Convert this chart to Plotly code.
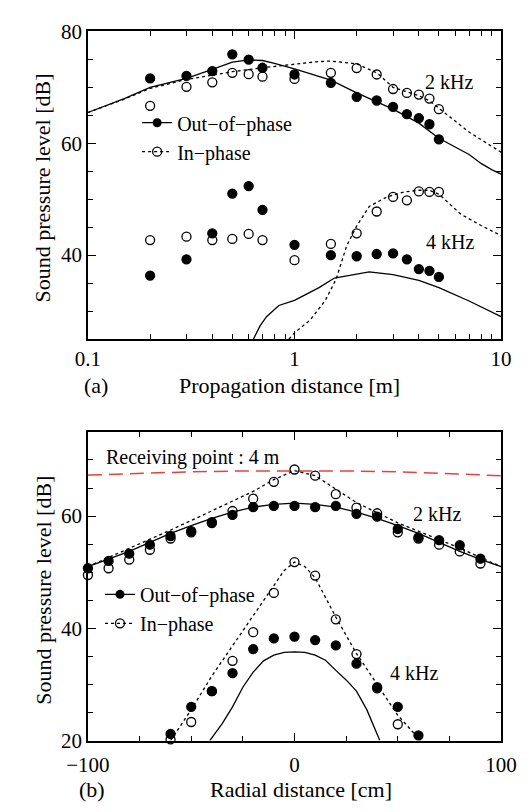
import plotly.graph_objects as go

# ---------------- (a) Propagation distance ----------------
dist_pts = [0.2, 0.3, 0.4, 0.5, 0.6, 0.7, 1.0, 1.5, 2.0, 2.5, 3.0, 3.5, 4.0, 4.5, 5.0]
a2k_out = [71.6, 72.05, 72.9, 75.9, 74.96, 73.5, 72.3, 70.8, 68.3, 67.65, 66.5, 65.2, 64.5, 63.4, 60.7]
a2k_in = [66.7, 70.1, 70.9, 72.6, 72.35, 71.9, 71.5, 72.6, 73.45, 72.3, 69.7, 69.0, 68.7, 68.0, 66.1]
a4k_out = [36.35, 39.25, 43.9, 51.0, 52.35, 48.1, 41.85, 40.0, 39.8, 40.2, 40.3, 39.25, 37.5, 37.2, 36.1]
a4k_in = [42.7, 43.3, 42.7, 42.9, 43.8, 42.7, 39.1, 42.0, 43.9, 47.8, 50.4, 49.8, 51.4, 51.3, 51.3]

a2k_out_line_x = [0.1, 0.15, 0.2, 0.3, 0.4, 0.5, 0.6, 0.7, 0.8, 1.0, 1.5, 2.0, 3.0, 4.0, 5.0, 6.0, 7.0, 8.0, 9.0, 10.0]
a2k_out_line_y = [65.5, 68.0, 70.0, 71.6, 73.2, 74.5, 74.9, 74.8, 74.3, 73.3, 71.3, 69.0, 66.1, 63.6, 60.9, 59.4, 58.0, 56.4, 55.3, 54.5]
a2k_in_line_x = [0.1, 0.15, 0.2, 0.3, 0.4, 0.5, 0.7, 1.0, 1.3, 1.5, 2.0, 2.5, 3.0, 3.5, 4.0, 4.5, 5.0, 7.0, 10.0]
a2k_in_line_y = [65.5, 67.9, 69.8, 71.4, 72.2, 72.8, 73.5, 74.2, 74.6, 74.7, 74.2, 72.6, 70.0, 69.2, 68.5, 67.6, 66.3, 62.0, 58.4]
a4k_out_line_x = [0.633, 0.68, 0.732, 0.84, 1.0, 1.07, 1.315, 1.56, 2.0, 2.3, 3.0, 4.0, 5.0, 7.0, 10.0]
a4k_out_line_y = [25.0, 27.3, 29.0, 31.0, 31.9, 32.5, 34.2, 35.9, 36.6, 37.0, 36.5, 35.5, 34.2, 31.8, 29.0]
a4k_in_line_x = [0.94, 1.0, 1.19, 1.41, 1.59, 1.79, 2.0, 2.3, 2.8, 3.4, 4.0, 4.5, 5.0, 5.6, 6.4, 8.0, 10.0]
a4k_in_line_y = [25.0, 26.1, 28.4, 31.9, 35.7, 41.7, 45.2, 48.7, 50.4, 51.3, 51.6, 51.6, 50.9, 49.2, 47.3, 45.3, 43.5]

# ---------------- (b) Radial distance ----------------
r2k_pts = [-100, -90, -80, -70, -60, -50, -40, -30, -20, -10, 0, 10, 20, 30, 40, 50, 60, 70, 80, 90]
b2k_out = [50.7, 52.0, 53.3, 54.9, 56.45, 57.3, 58.9, 60.2, 61.6, 61.8, 61.8, 61.6, 61.8, 60.4, 59.9, 57.7, 56.2, 55.7, 54.8, 52.4]
b2k_in = [49.5, 50.7, 52.25, 54.0, 56.0, 57.1, 58.75, 60.9, 63.1, 66.1, 68.3, 67.2, 63.9, 61.5, 60.5, 57.1, 56.0, 54.9, 53.7, 51.55]
r4k_out_pts = [-60, -50, -40, -30, -20, -10, 0, 10, 20, 30, 40, 50, 60]
b4k_out = [21.2, 26.0, 28.8, 32.0, 36.3, 38.2, 38.5, 37.9, 36.95, 33.7, 29.5, 26.0, 20.9]
r4k_in_pts = [-60, -50, -40, -30, -20, -10, 0, 10, 20, 30, 40, 50]
b4k_in = [20.2, 23.3, 28.8, 34.2, 39.3, 46.3, 51.8, 49.4, 41.6, 35.4, 29.3, 22.9]

b2k_line_x = [-100, -90, -80, -70, -60, -50, -40, -30, -20, -10, 0, 10, 20, 30, 40, 50, 60, 70, 80, 90, 100]
b2k_out_line_y = [51.0, 52.3, 53.7, 55.3, 56.9, 58.3, 59.6, 60.7, 61.6, 62.1, 62.3, 62.1, 61.6, 60.7, 59.6, 58.3, 56.9, 55.3, 53.7, 52.3, 51.0]
b2k_in_line_y = [51.0, 52.6, 54.3, 55.9, 57.5, 59.2, 60.9, 62.6, 64.4, 66.5, 68.1, 67.2, 64.8, 62.4, 60.6, 58.8, 57.3, 55.8, 54.3, 52.6, 51.0]
b4k_out_line_x = [-41, -35, -30, -25, -20, -15, -10, -5, 0, 5, 10, 15, 20, 25, 30, 35, 41.3]
b4k_out_line_y = [20.0, 23.0, 26.0, 29.5, 32.2, 34.2, 35.2, 35.7, 35.8, 35.7, 35.2, 34.3, 32.5, 30.8, 28.8, 25.5, 20.0]
b4k_in_line_x = [-60, -50, -40, -30, -20, -10, -5, 0, 5, 10, 20, 30, 40, 50, 60, 61]
b4k_in_line_y = [20.0, 25.5, 31.5, 36.9, 42.3, 47.7, 50.3, 51.8, 51.0, 49.0, 42.0, 35.5, 30.0, 24.5, 20.4, 20.0]
recv_x = [-100, -75, -50, -25, 0, 25, 50, 75, 100]
recv_y = [67.3, 67.65, 67.9, 68.05, 68.1, 68.05, 67.9, 67.6, 67.2]

FONT = "Liberation Serif, Times New Roman, Times, serif"
W, H = 531, 812
BLACK = "black"

def px(xp):
    return xp / W

def py(yp):
    return 1 - yp / H

fig = go.Figure()

def line(x, y, dash, xa, ya, color=BLACK, width=1.3):
    fig.add_trace(go.Scatter(x=x, y=y, mode="lines", xaxis=xa, yaxis=ya, showlegend=False,
                             line=dict(color=color, width=width, dash=dash), hoverinfo="skip"))

def pts(x, y, filled, xa, ya):
    fig.add_trace(go.Scatter(x=x, y=y, mode="markers", xaxis=xa, yaxis=ya, showlegend=False,
                             cliponaxis=False,
                             marker=dict(symbol="circle" if filled else "circle-open", size=9,
                                         color=BLACK, line=dict(color=BLACK, width=1.3))))

# panel (a)
line(a2k_out_line_x, a2k_out_line_y, "solid", "x", "y")
line(a2k_in_line_x, a2k_in_line_y, "3px,3px", "x", "y")
line(a4k_out_line_x, a4k_out_line_y, "solid", "x", "y")
line(a4k_in_line_x, a4k_in_line_y, "3px,3px", "x", "y")
pts(dist_pts, a2k_in, False, "x", "y")
pts(dist_pts, a2k_out, True, "x", "y")
pts(dist_pts, a4k_in, False, "x", "y")
pts(dist_pts, a4k_out, True, "x", "y")

# panel (b)
line(recv_x, recv_y, "14px,7px", "x2", "y2", color="#e8403a", width=1.5)
line(b2k_line_x, b2k_out_line_y, "solid", "x2", "y2")
line(b2k_line_x, b2k_in_line_y, "3px,3px", "x2", "y2")
line(b4k_out_line_x, b4k_out_line_y, "solid", "x2", "y2")
line(b4k_in_line_x, b4k_in_line_y, "3px,3px", "x2", "y2")
pts(r2k_pts, b2k_in, False, "x2", "y2")
pts(r2k_pts, b2k_out, True, "x2", "y2")
pts(r4k_in_pts, b4k_in, False, "x2", "y2")
pts(r4k_out_pts, b4k_out, True, "x2", "y2")

# legend entries
for lg, xa, ya in (("legend", "x", "y"), ("legend2", "x2", "y2")):
    fig.add_trace(go.Scatter(x=[None], y=[None], mode="lines+markers", name="Out\u2212of\u2212phase",
                             xaxis=xa, yaxis=ya, legend=lg,
                             line=dict(color=BLACK, width=1.3),
                             marker=dict(symbol="circle", size=9, color=BLACK)))
    fig.add_trace(go.Scatter(x=[None], y=[None], mode="lines+markers", name="In\u2212phase",
                             xaxis=xa, yaxis=ya, legend=lg,
                             line=dict(color=BLACK, width=1.3, dash="3px,3px"),
                             marker=dict(symbol="circle-open", size=9, color=BLACK,
                                         line=dict(color=BLACK, width=1.3))))

axis_common = dict(showline=True, linecolor=BLACK, linewidth=1.5, mirror="allticks",
                   ticks="inside", ticklen=8, tickwidth=1.2, tickcolor=BLACK,
                   showgrid=False, zeroline=False,
                   tickfont=dict(family=FONT, size=21, color=BLACK))
minor_common = dict(ticks="inside", ticklen=5, tickwidth=1.2, tickcolor=BLACK, showgrid=False)

xdom = [px(71), px(516)]
log_minor = [0.2, 0.3, 0.4, 0.5, 0.6, 0.7, 0.8, 0.9, 2, 3, 4, 5, 6, 7, 8, 9]

fig.update_layout(
    width=W, height=H, margin=dict(l=0, r=0, t=0, b=0),
    paper_bgcolor="white", plot_bgcolor="white",
    font=dict(family=FONT, color=BLACK),
    xaxis=dict(domain=xdom, type="log", range=[-1, 1], tickvals=[0.1, 1, 10],
               ticktext=["0.1", "1", "10"], anchor="y",
               minor=dict(tickvals=log_minor, **minor_common), **axis_common),
    yaxis=dict(domain=[py(337), py(20)], range=[25, 80], tickvals=[40, 60, 80], anchor="x",
               minor=dict(dtick=5, **minor_common), **axis_common),
    xaxis2=dict(domain=xdom, range=[-100, 100], tickvals=[-100, 0, 100], anchor="y2",
                ticklabelstandoff=5,
                minor=dict(dtick=25, **minor_common), **axis_common),
    yaxis2=dict(domain=[py(750.7), py(432.7)], range=[20, 75], tickvals=[20, 40, 60], anchor="x2",
                minor=dict(dtick=5, **minor_common), **axis_common),
    legend=dict(x=px(124), y=py(94), xanchor="left", yanchor="top", bgcolor="rgba(0,0,0,0)",
                font=dict(family=FONT, size=20, color=BLACK), tracegroupgap=0, itemwidth=30),
    legend2=dict(x=px(84), y=py(580), xanchor="left", yanchor="top", bgcolor="rgba(0,0,0,0)",
                 font=dict(family=FONT, size=20, color=BLACK), tracegroupgap=0, itemwidth=30),
)

def note(text, xp, yp, size=20, angle=0, xanchor="center"):
    fig.add_annotation(text=text, x=px(xp), y=py(yp), xref="paper", yref="paper",
                       showarrow=False, xanchor=xanchor, yanchor="middle", textangle=angle,
                       font=dict(family=FONT, size=size, color=BLACK))

note("2 kHz", 459.5, 72)
note("4 kHz", 461, 237)
note("(a)", 80, 385, size=22)
note("Propagation distance [m]", 288, 385, size=22)
note("Sound pressure level [dB]", 22, 181.5, size=22, angle=-90)

note("Receiving point : 4 m", 88, 459, xanchor="left")
note("2 kHz", 447.5, 517)
note("4 kHz", 422.5, 681)
note("(b)", 75, 801, size=22)
note("Radial distance [cm]", 300, 801, size=22)
note("Sound pressure level [dB]", 23, 596, size=22, angle=-90)

fig.write_html("out.html")
